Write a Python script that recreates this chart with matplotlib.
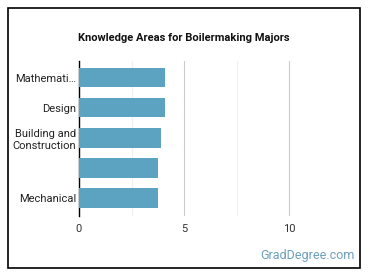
import matplotlib

matplotlib.use("agg")
import matplotlib.pyplot as plt
from matplotlib.patches import Rectangle

# Data
labels = ["Mathemati\u2026", "Design", "Building and\nConstruction", "", "Mechanical"]
values = [4.1, 4.1, 3.9, 3.75, 3.75]
xticks = [0, 5, 10]

plt.rcParams["font.family"] = ["Roboto", "DejaVu Sans"]

fig = plt.figure(figsize=(3.7, 2.78), dpi=100)
ax = fig.add_axes([79 / 370, 1 - 216 / 278, (352 - 79) / 370, (216 - 61) / 278])

# Border round the whole card
fig.patches.append(Rectangle((8 / 370, 10 / 278), 352 / 370, 260 / 278,
                             transform=fig.transFigure, fill=False,
                             edgecolor="black", linewidth=1.2))

pos = list(range(len(labels)))
ax.barh(pos, values, height=0.65, color="#5ba3c0", zorder=3)
ax.set_yticks(pos)
ax.set_yticklabels(labels, fontsize=8, color="#222222", linespacing=1.25)
ax.invert_yaxis()
ax.set_ylim(4.6, -0.55)

ax.set_xlim(0, 13)
ax.set_xticks(xticks)
ax.set_xticklabels([str(t) for t in xticks], fontsize=8, color="#333333")
ax.set_xticks([2.5, 7.5], minor=True)
ax.grid(axis="x", which="major", color="#cccccc", linewidth=0.8, zorder=0)
ax.grid(axis="x", which="minor", color="#f0f0f0", linewidth=0.8, zorder=0)
ax.tick_params(axis="both", which="both", length=0)
ax.tick_params(axis="x", pad=6)
ax.tick_params(axis="y", pad=2)

for side in ["top", "right", "bottom"]:
    ax.spines[side].set_visible(False)
ax.spines["left"].set_color("black")
ax.spines["left"].set_linewidth(1)

fig.text(184 / 370, 1 - 38 / 278, "Knowledge Areas for Boilermaking Majors",
         ha="center", va="center", fontsize=8, fontweight="bold", color="#111111")
fig.text(355 / 370, 1 - 255 / 278, "GradDegree.com", ha="right", va="center",
         fontsize=9, color="#6d9fbd")

fig.savefig("out.png", dpi=100)
